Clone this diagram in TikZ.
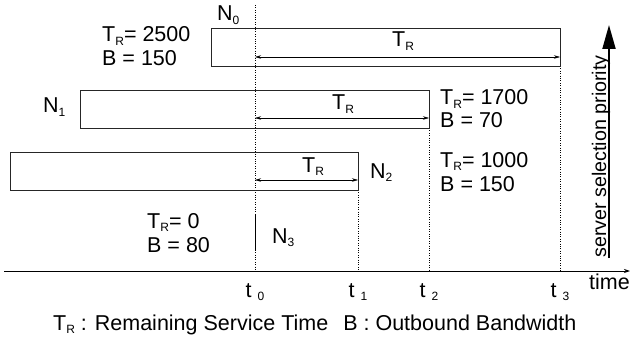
\documentclass[tikz,border=0pt]{standalone}
\usepackage{fontspec}
\setmainfont{Liberation Sans}
\usetikzlibrary{arrows.meta}
\newcommand\mysub[1]{\raisebox{-0.35ex}{\fontsize{12}{12}\selectfont #1}}
\begin{document}
\begin{tikzpicture}[x=1pt,y=-1pt,
  lbl/.style={inner sep=0pt,anchor=base west,font=\fontsize{21.5}{21.5}\selectfont},
  box/.style={draw=black!85,line width=0.8pt},
  dotl/.style={line width=0.8pt,dash pattern=on 0.8pt off 1.6pt},
  dur/.style={line width=0.5pt,{Stealth[length=6pt,width=3.5pt]}-{Stealth[length=6pt,width=3.5pt]}}]
\useasboundingbox (0,0) rectangle (631,342);
% time instants
\coordinate (a0) at (255,5);
\coordinate (b0) at (255,271);
\coordinate (a1) at (358,190);
\coordinate (b1) at (358,271);
\coordinate (a2) at (429,128);
\coordinate (b2) at (429,271);
\coordinate (a3) at (560,66);
\coordinate (b3) at (560,271);
\draw[dotl] (a0) -- (b0);
\draw[dotl] (a1) -- (b1);
\draw[dotl] (a2) -- (b2);
\draw[dotl] (a3) -- (b3);
% boxes
\node[box,minimum width=349pt,minimum height=38pt,inner sep=0pt,anchor=north west] (N0) at (211,28) {};
\node[box,minimum width=349pt,minimum height=38pt,inner sep=0pt,anchor=north west] (N1) at (80,90) {};
\node[box,minimum width=348pt,minimum height=38pt,inner sep=0pt,anchor=north west] (N2) at (10,152) {};
% duration arrows
\coordinate (s0) at (255,57); \coordinate (e0) at (560,57);
\coordinate (s1) at (255,118); \coordinate (e1) at (429,118);
\coordinate (s2) at (255,180); \coordinate (e2) at (358,180);
\draw[dur] (s0) -- (e0);
\draw[dur] (s1) -- (e1);
\draw[dur] (s2) -- (e2);
\node[lbl] (tr0) at (392,47) {T\mysub{R}};
\node[lbl] (tr1) at (332,110) {T\mysub{R}};
\node[lbl] (tr2) at (302,172) {T\mysub{R}};
% N3
\coordinate (n3a) at (255,215); \coordinate (n3b) at (255,250);
\draw[line width=0.9pt] (n3a) -- (n3b);
% server labels
\node[lbl] (l0) at (217,21) {N\mysub{0}};
\node[lbl] (l1) at (43,113) {N\mysub{1}};
\node[lbl] (l2) at (370,178) {N\mysub{2}};
\node[lbl] (l3) at (272,243) {N\mysub{3}};
\node[lbl] (v0a) at (102,42) {T\mysub{R}= 2500};
\node[lbl] (v0b) at (102,66) {B = 150};
\node[lbl] (v1a) at (440,105) {T\mysub{R}= 1700};
\node[lbl] (v1b) at (440,128) {B = 70};
\node[lbl] (v2a) at (440,167) {T\mysub{R}= 1000};
\node[lbl] (v2b) at (440,191) {B = 150};
\node[lbl] (v3a) at (147,228) {T\mysub{R}= 0};
\node[lbl] (v3b) at (147,252) {B = 80};
% axis
\coordinate (ax0) at (4,271); \coordinate (ax1) at (630,271);
\draw[line width=0.8pt,-{Stealth[length=6pt,width=4pt]}] (ax0) -- (ax1);
\node[lbl] (time) at (589,289) {time};
\node[lbl,anchor=base] (t0) at (255,297) {t \mysub{0}};
\node[lbl,anchor=base] (t1) at (358,297) {t \mysub{1}};
\node[lbl,anchor=base] (t2) at (429,297) {t \mysub{2}};
\node[lbl,anchor=base] (t3) at (560,297) {t \mysub{3}};
% priority
\coordinate (p0) at (609,258); \coordinate (p1) at (609,25);
\draw[line width=2pt,-{Triangle[length=24pt,width=13pt]}] (p0) -- (p1);
\node[lbl,rotate=90,anchor=base west,font=\fontsize{19.7}{19.7}\selectfont] (prio) at (606,258) {server selection priority};
% legend
\node[lbl] (leg) at (53,330) {T\mysub{R} : Remaining Service Time\hspace{0.7em}B : Outbound Bandwidth};
\end{tikzpicture}
\end{document}
